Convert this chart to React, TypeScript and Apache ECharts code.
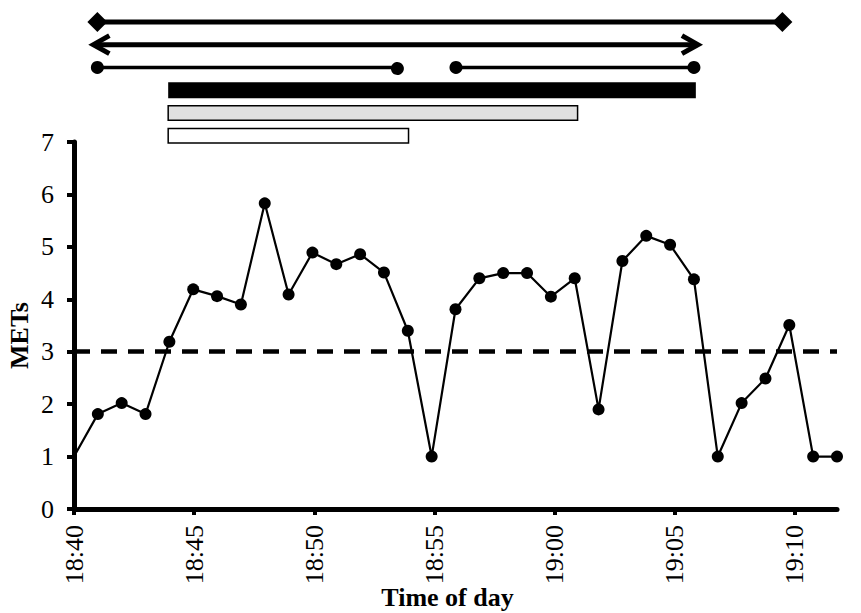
import React, { useEffect, useRef } from "react";
import * as echarts from "echarts";

// Tick labels of the time axis (every 5 minutes from 18:40)
const tickLabels = ["18:40", "18:45", "18:50", "18:55", "19:00", "19:05", "19:10"];
const tickMinutes = [0, 5, 10, 15, 20, 25, 30];

// METs per sample (one sample per step, starting at 18:40)
const mets = [
  1.0, 1.81, 2.02, 1.81, 3.19, 4.19, 4.06, 3.9, 5.83, 4.09,
  4.89, 4.67, 4.86, 4.51, 3.4, 1.0, 3.81, 4.4, 4.5, 4.5,
  4.05, 4.4, 1.9, 4.73, 5.21, 5.04, 4.38, 1.0, 2.02, 2.49,
  3.51, 1.0, 1.0,
];
const threshold = 3;

// Annotation spans above the chart (in sample units)
const diamondSpans = [[0.98, 29.71]];
const arrowSpans = [[0.98, 26.0]];
const dotSpans = [[0.98, 13.56], [16.02, 26.0]];
const blackBars = [[3.95, 26.08]];
const grayBars = [[3.95, 21.12]];
const whiteBars = [[3.95, 14.03]];

const FONT = "Liberation Serif";

function makeRender(kind: string) {
  return (params: any, api: any) => {
    const row = api.value(2);
    const p1 = api.coord([api.value(0), row]);
    const p2 = api.coord([api.value(1), row]);
    const y = p1[1];
    const x1 = p1[0];
    const x2 = p2[0];
    const black = "#000";
    if (kind === "diamond") {
      const d = 10;
      const dia = (x: number) => ({
        type: "polygon",
        shape: { points: [[x - d, y], [x, y - d], [x + d, y], [x, y + d]] },
        style: { fill: black },
      });
      return {
        type: "group",
        children: [
          { type: "line", shape: { x1, y1: y, x2, y2: y }, style: { stroke: black, lineWidth: 5 } },
          dia(x1),
          dia(x2),
        ],
      };
    }
    if (kind === "arrow") {
      const t = 4, L = 16, H = 9;
      return {
        type: "group",
        children: [
          { type: "line", shape: { x1, y1: y, x2, y2: y }, style: { stroke: black, lineWidth: 5 } },
          {
            type: "polyline",
            shape: { points: [[x1 - t + L, y - H], [x1 - t, y], [x1 - t + L, y + H]] },
            style: { stroke: black, lineWidth: 5, fill: "none", lineJoin: "miter" },
          },
          {
            type: "polyline",
            shape: { points: [[x2 + t - L, y - H], [x2 + t, y], [x2 + t - L, y + H]] },
            style: { stroke: black, lineWidth: 5, fill: "none", lineJoin: "miter" },
          },
        ],
      };
    }
    if (kind === "dots") {
      const r = 6.5;
      return {
        type: "group",
        children: [
          { type: "line", shape: { x1, y1: y, x2, y2: y }, style: { stroke: black, lineWidth: 3.5 } },
          { type: "circle", shape: { cx: x1, cy: y, r }, style: { fill: black } },
          { type: "circle", shape: { cx: x2, cy: y, r }, style: { fill: black } },
        ],
      };
    }
    const h = kind === "black" ? 16 : 14.5;
    const fill = kind === "black" ? "#000" : kind === "gray" ? "#e0e0e0" : "#ffffff";
    return {
      type: "rect",
      shape: { x: x1, y: y - h / 2, width: x2 - x1, height: h },
      style: { fill, stroke: "#000", lineWidth: kind === "black" ? 0 : 1.5 },
    };
  };
}

function spanSeries(kind: string, spans: number[][], row: number) {
  return {
    type: "custom",
    xAxisIndex: 2,
    yAxisIndex: 1,
    clip: false,
    silent: true,
    renderItem: makeRender(kind),
    encode: { x: [0, 1], y: 2 },
    data: spans.map((s) => [s[0], s[1], row]),
  };
}

export default function App() {
  const ref = useRef<HTMLDivElement>(null);
  useEffect(() => {
    if (!ref.current) return;
    const chart = echarts.init(ref.current, null, { renderer: "svg" });
    const lineData = mets.map((v, i) =>
      i === 0 ? { value: [i, v], symbol: "none" } : { value: [i, v] }
    );
    chart.setOption({
      animation: false,
      backgroundColor: "#fff",
      grid: [
        { left: 74, right: 24, top: 142, bottom: 104, outerBoundsMode: "none", containLabel: false },
        { left: 74, right: 24, top: 10.5, height: 136.7, outerBoundsMode: "none", containLabel: false },
      ],
      xAxis: [
        {
          gridIndex: 0,
          type: "value",
          min: 0,
          max: 31.75,
          interval: 5,
          position: "bottom",
          axisLine: { show: true, onZero: false, lineStyle: { color: "#000", width: 5 } },
          axisTick: { show: true, length: 6, customValues: tickMinutes, lineStyle: { color: "#000", width: 4 } },
          axisLabel: {
            rotate: 90,
            margin: 16,
            fontSize: 26,
            fontFamily: FONT,
            color: "#000",
            customValues: tickMinutes,
            formatter: (v: number) => tickLabels[tickMinutes.indexOf(v)] ?? "",
          },
          splitLine: { show: false },
          name: "Time of day",
          nameLocation: "middle",
          nameGap: 75,
          nameMoveOverlap: false,
          nameTextStyle: { fontSize: 26, fontWeight: "bold", fontFamily: FONT, color: "#000", padding: [0, 16, 0, 0] },
        },
        { gridIndex: 0, type: "value", min: 0, max: mets.length - 1, position: "top", show: false },
        { gridIndex: 1, type: "value", min: 0, max: mets.length - 1, show: false },
      ],
      yAxis: [
        {
          gridIndex: 0,
          type: "value",
          min: 0,
          max: 7,
          interval: 1,
          axisLine: { show: true, onZero: false, lineStyle: { color: "#000", width: 5 } },
          axisTick: { show: true, length: 7, lineStyle: { color: "#000", width: 4 } },
          axisLabel: { margin: 20, fontSize: 26, fontFamily: FONT, color: "#000" },
          splitLine: { show: false },
          name: "METs",
          nameLocation: "middle",
          nameRotate: 90,
          nameGap: 42,
          nameMoveOverlap: false,
          nameTextStyle: { fontSize: 26, fontWeight: "bold", fontFamily: FONT, color: "#000", padding: [0, 20, 0, 0] },
        },
        { gridIndex: 1, type: "value", min: -0.5, max: 5.5, inverse: true, show: false },
      ],
      series: [
        {
          type: "line",
          xAxisIndex: 1,
          yAxisIndex: 0,
          data: lineData,
          symbol: "circle",
          symbolSize: 12,
          itemStyle: { color: "#000" },
          lineStyle: { color: "#000", width: 2.2 },
          silent: true,
          z: 3,
          markLine: {
            silent: true,
            symbol: ["none", "none"],
            label: { show: false },
            lineStyle: { color: "#000", width: 4.5, type: [16, 11] },
            data: [{ yAxis: threshold }],
          },
        },
        spanSeries("diamond", diamondSpans, 0),
        spanSeries("arrow", arrowSpans, 1),
        spanSeries("dots", dotSpans, 2),
        spanSeries("black", blackBars, 3),
        spanSeries("gray", grayBars, 4),
        spanSeries("white", whiteBars, 5),
      ],
    });
    return () => chart.dispose();
  }, []);
  return (
    <div
      ref={ref}
      style={{ position: "absolute", left: 0, top: 0, width: 861, height: 613 }}
    />
  );
}
